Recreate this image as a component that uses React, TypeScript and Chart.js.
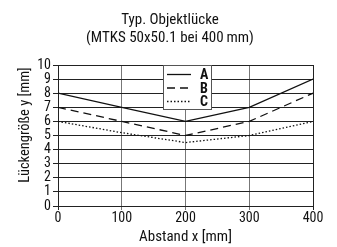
import React, { useEffect, useRef } from "react";
import { Chart, registerables } from "chart.js";
Chart.register(...registerables);

const xValues = [0, 100, 200, 300, 400];
const seriesA = [8, 7, 6, 7, 9];
const seriesB = [7, 6, 5, 6, 8];
const seriesC = [6, 5.2, 4.5, 5, 6];
const seriesNames = ["A", "B", "C"];
const titleLines = ["Typ. Objektlücke", "(MTKS 50x50.1 bei 400\u2009mm)"];
const xTitle = "Abstand x [mm]";
const yTitle = "Lückengröße y [mm]";

const FONT = "'Roboto Condensed', 'Liberation Sans', sans-serif";
const dashes = [[], [8, 5], [1.5, 2]];

const overlay = {
  id: "overlay",
  afterDraw(chart: any) {
    const ctx = chart.ctx;
    const area = chart.chartArea;
    ctx.save();
    // title
    ctx.fillStyle = "#111";
    ctx.font = `15px ${FONT}`;
    ctx.textAlign = "center";
    ctx.textBaseline = "middle";
    ctx.fillText(titleLines[0], 170, 20);
    ctx.fillText(titleLines[1], 170, 38);
    // y title
    ctx.save();
    ctx.translate(25, 125);
    ctx.rotate(-Math.PI / 2);
    ctx.font = `14.5px ${FONT}`;
    ctx.fillText(yTitle, 0, 0);
    ctx.restore();
    // legend box
    const bx = area.left + 105, by = area.top, bw = 48, bh = 44;
    ctx.fillStyle = "#fff";
    ctx.fillRect(bx, by, bw, bh);
    ctx.strokeStyle = "#555";
    ctx.lineWidth = 1;
    ctx.strokeRect(bx + 0.5, by + 0.5, bw, bh);
    chart.data.datasets.forEach((ds: any, i: number) => {
      const y = by + 9.5 + i * 13.5;
      ctx.beginPath();
      ctx.setLineDash(dashes[i]);
      ctx.strokeStyle = "#111";
      ctx.lineWidth = 1.3;
      ctx.moveTo(bx + 4, y);
      ctx.lineTo(bx + 28, y);
      ctx.stroke();
      ctx.setLineDash([]);
      ctx.fillStyle = "#111";
      ctx.font = `bold 14px ${FONT}`;
      ctx.textAlign = "left";
      ctx.fillText(ds.label, bx + 37, y + 1);
    });
    ctx.restore();
  },
};

export default function App() {
  const ref = useRef<HTMLCanvasElement>(null);
  useEffect(() => {
    const chart = new Chart(ref.current!, {
      type: "line",
      data: {
        datasets: [seriesA, seriesB, seriesC].map((s, i) => ({
          label: seriesNames[i],
          data: s.map((v, j) => ({ x: xValues[j], y: v })),
          borderColor: "#111",
          borderWidth: 1.3,
          borderDash: dashes[i],
          pointRadius: 0,
          fill: false,
          tension: 0,
        })),
      },
      options: {
        animation: false,
        responsive: false,
        maintainAspectRatio: false,
        layout: { padding: { top: 65, right: 24, left: 0, bottom: 0 } },
        plugins: { legend: { display: false }, title: { display: false }, tooltip: { enabled: false } },
        scales: {
          x: {
            type: "linear",
            min: 0,
            max: 400,
            afterFit: (s: any) => { s.height = 41; },
            ticks: { stepSize: 100, autoSkip: false, maxRotation: 0, color: "#111", font: { family: FONT, size: 14 }, padding: 0 },
            grid: { color: (c: any) => (c.tick && (c.tick.value === 0 || c.tick.value === 400) ? "#222" : "#777"), tickLength: 4, lineWidth: 1 },
            border: { color: "#222", width: 1 },
            title: { display: true, text: xTitle, color: "#111", font: { family: FONT, size: 15 }, padding: { top: 0, bottom: 1 } },
          },
          y: {
            min: 0,
            max: 10,
            afterFit: (s: any) => { s.width = 58; },
            ticks: { stepSize: 1, autoSkip: false, color: "#111", font: { family: FONT, size: 14, lineHeight: 1 }, padding: 2 },
            grid: { color: "#222", tickLength: 5, lineWidth: 1 },
            border: { color: "#222", width: 1 },
            title: { display: false },
          },
        },
      },
      plugins: [overlay],
    } as any);
    return () => chart.destroy();
  }, []);
  return (
    <div style={{ position: "fixed", left: 0, top: 0, width: 337, height: 247, background: "#fff" }}>
      <canvas ref={ref} width={337} height={247} style={{ width: 337, height: 247 }} />
    </div>
  );
}
